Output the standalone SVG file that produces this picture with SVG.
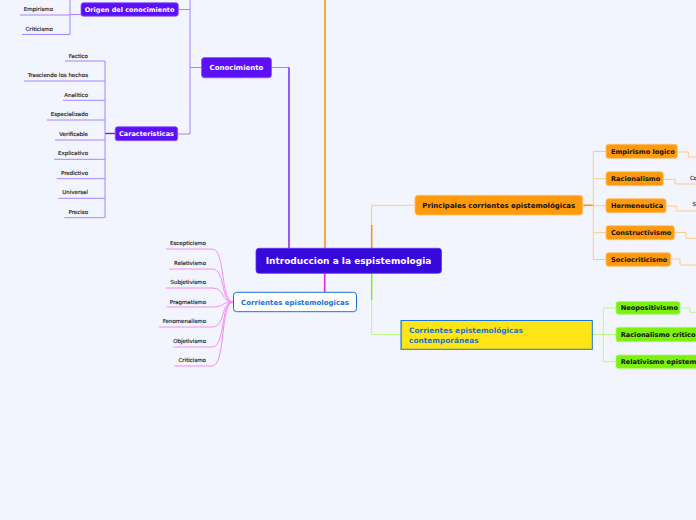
<svg xmlns="http://www.w3.org/2000/svg" width="696" height="520" viewBox="0 0 696 520">
<style>
.bg{fill:#f3f5fe}
.t{font-family:"DejaVu Sans",Verdana,sans-serif}
.leaf{font-family:"DejaVu Sans",Verdana,sans-serif;font-size:5.5px;fill:#2a2a2a;stroke:#2a2a2a;stroke-width:0.18;text-anchor:end}
.pn rect{fill:#5b10f6;stroke:#8a5cff;stroke-width:0.8}
.pn text{fill:#fff;font-weight:bold;font-family:"DejaVu Sans",Verdana,sans-serif}
.on rect{fill:#ff9a0c;stroke:#ffc069;stroke-width:0.8}
.on text{fill:#111;font-weight:bold;font-family:"DejaVu Sans",Verdana,sans-serif;font-size:6.6px}
.gn rect{fill:#7cf00e;stroke:#b0f772;stroke-width:0.8}
.gn text{fill:#111;font-weight:bold;font-family:"DejaVu Sans",Verdana,sans-serif;font-size:6.6px}
.c{fill:none;stroke-linejoin:round}
.pl{stroke:#a684ff;stroke-width:1}
.pd{stroke:#6b1cf7;stroke-width:1.4}
.ol{stroke:#fcc98a;stroke-width:1}
.od{stroke:#f7961f;stroke-width:1.6}
.gl{stroke:#bdf58a;stroke-width:1}
.gd{stroke:#86ee22;stroke-width:1.5}
.ml{stroke:#f58cf5;stroke-width:1}
.md{stroke:#ee22ee;stroke-width:1.6}
</style>
<rect class="bg" x="0" y="0" width="696" height="520"/>

<g id="connectors">
  <path class="c od" d="M325,0 V248"/>
  <path class="c pl" d="M271,67.5 H289"/>
  <path class="c pd" d="M289,67.5 V248"/>
  <path class="c pl" d="M190,0 V134 M201,67.5 H190 M178,9.5 H190 M178,134 H190"/>
  <path class="c pl" d="M70,0 V34.5 M81,14.5 H70 M20,15 H70 M22,34.5 H70"/>
  <path class="c pd" d="M115,133.5 H105"/>
  <path class="c pl" d="M105,61 V217.7 M65,61 H105 M24,81 H105 M63,100.3 H105 M47,120 H105 M55,140 H105 M54,159.3 H105 M56.7,178.7 H105 M58.3,198.3 H105 M64.3,217.7 H105"/>
  <path class="c od" d="M371.7,248 V225"/>
  <path class="c ol" d="M371.7,225 V205.3 H415"/>
  <path class="c od" d="M583,205.3 H593.3"/>
  <path class="c ol" d="M593.3,151.5 V259.5 M593.3,151.5 H606 M593.3,178.7 H606 M593.3,205.7 H606 M593.3,232.7 H606 M593.3,259.5 H606"/>
  <path class="c ol" d="M677,152 H688.3 V157 H696 M663.3,179.3 H675 V184 H696 M666,206 H676.7 V211 H696 M674.3,232.5 H686 V238.3 H696 M671,259 H680 V265 H696"/>
  <path class="c gd" d="M371.7,273 V300"/>
  <path class="c gl" d="M371.7,300 V334.5 H401"/>
  <path class="c gl" d="M592.3,334.5 H603.3 M603.3,308 V361.7 M603.3,308 H616 M603.3,334.5 H616 M603.3,361.7 H616"/>
  <path class="c gl" d="M680,308 H690 V312.3 H696"/>
  <path class="c md" d="M324.7,273 V292"/>
  <path class="c ml" d="M166,249 H212 C226,249 220,302 233,302"/>
  <path class="c ml" d="M169,269 H212 C226,269 220,302 233,302"/>
  <path class="c ml" d="M166,288 H212 C226,288 220,302 233,302"/>
  <path class="c ml" d="M166.7,307 H212 C226,307 220,302 233,302"/>
  <path class="c ml" d="M159,327 H212 C226,327 220,302 233,302"/>
  <path class="c ml" d="M172.7,347 H212 C226,347 220,302 233,302"/>
  <path class="c ml" d="M174,366 H212 C226,366 220,302 233,302"/>
</g>

<g id="central">
  <rect x="256" y="248.3" width="185.5" height="25" rx="3" fill="#3608dc" stroke="#5a36e6" stroke-width="0.8"/>
  <text class="t" x="348.5" y="264" font-size="9" font-weight="bold" fill="#fff" text-anchor="middle">Introduccion a la espistemologia</text>
</g>

<g id="conocimiento" class="pn">
  <rect x="201.5" y="57.5" width="70" height="20.3" rx="3"/>
  <text x="236.5" y="70.2" font-size="7" text-anchor="middle">Conocimiento</text>
</g>
<g id="origen" class="pn">
  <rect x="81" y="2.7" width="97.3" height="13.5" rx="2.5"/>
  <text x="129.6" y="11.8" font-size="6.5" text-anchor="middle">Origen del conocimiento</text>
</g>
<g id="caracteristicas" class="pn">
  <rect x="115.2" y="126.7" width="62.5" height="14" rx="2.5"/>
  <text x="146.5" y="136" font-size="6.5" text-anchor="middle">Caracteristicas</text>
</g>

<g id="origen-leaves">
  <text class="leaf" x="53" y="10.8">Empirismo</text>
  <text class="leaf" x="53" y="31">Criticismo</text>
</g>
<g id="caract-leaves">
  <text class="leaf" x="88" y="57.7">Factico</text>
  <text class="leaf" x="88" y="77">Trasciende los hechos</text>
  <text class="leaf" x="88" y="97">Analitico</text>
  <text class="leaf" x="88" y="116">Especializado</text>
  <text class="leaf" x="88" y="136">Verificable</text>
  <text class="leaf" x="88" y="155.3">Explicativo</text>
  <text class="leaf" x="88" y="174.7">Predictivo</text>
  <text class="leaf" x="88" y="193.7">Universal</text>
  <text class="leaf" x="88" y="213.7">Preciso</text>
</g>

<g id="corrientes">
  <rect x="233.5" y="292.3" width="123" height="19.4" rx="3" fill="#ffffff" stroke="#1b6fd6" stroke-width="1"/>
  <text class="t" x="295" y="304.5" font-size="7" font-weight="bold" fill="#1570d8" text-anchor="middle">Corrientes epistemologicas</text>
</g>
<g id="corrientes-leaves">
  <text class="leaf" x="206" y="244.7">Escepticismo</text>
  <text class="leaf" x="206" y="264.7">Relativismo</text>
  <text class="leaf" x="206" y="283.7">Subjetivismo</text>
  <text class="leaf" x="206" y="303.7">Pragmatismo</text>
  <text class="leaf" x="206" y="322.7">Fenomenalismo</text>
  <text class="leaf" x="206" y="342.7">Objetivismo</text>
  <text class="leaf" x="206" y="362">Criticismo</text>
</g>

<g id="principales" class="on">
  <rect x="415" y="195.3" width="167.7" height="19.7" rx="3"/>
  <text x="498.8" y="207.8" text-anchor="middle" style="font-size:7px">Principales corrientes epistemológicas</text>
</g>
<g id="empirismo-logico" class="on">
  <rect x="606" y="144.3" width="71.3" height="14" rx="2.5"/>
  <text x="611" y="153.8">Empirismo logico</text>
</g>
<g id="racionalismo" class="on">
  <rect x="606" y="171.7" width="57.3" height="14" rx="2.5"/>
  <text x="611" y="181.2">Racionalismo</text>
</g>
<g id="hermeneutica" class="on">
  <rect x="606" y="198.7" width="60" height="14" rx="2.5"/>
  <text x="611" y="208.2">Hermeneutica</text>
</g>
<g id="constructivismo" class="on">
  <rect x="606" y="225.7" width="68.3" height="14" rx="2.5"/>
  <text x="611" y="235.2">Constructivismo</text>
</g>
<g id="sociocriticismo" class="on">
  <rect x="606" y="252.7" width="64.7" height="13.6" rx="2.5"/>
  <text x="611" y="262">Sociocriticismo</text>
</g>
<g id="orange-leaves">
  <text class="t" x="690" y="179.7" font-size="5.5" fill="#2a2a2a" stroke="#2a2a2a" stroke-width="0.18">Co</text>
  <text class="t" x="692.5" y="206.3" font-size="5.5" fill="#2a2a2a" stroke="#2a2a2a" stroke-width="0.18">S</text>
</g>

<g id="contemporaneas">
  <rect x="401" y="320.5" width="191.3" height="28.8" fill="#ffe516" stroke="#1b76d2" stroke-width="1"/>
  <line x1="401.5" y1="321" x2="401.5" y2="349" stroke="#5a9aa0" stroke-width="1.2"/>
  <text class="t" font-size="7.4" font-weight="bold" fill="#1773d4"><tspan x="409" y="333.3">Corrientes epistemológicas</tspan><tspan x="409" y="342.7">contemporáneas</tspan></text>
</g>
<g id="neopositivismo" class="gn">
  <rect x="616" y="301.5" width="64" height="12.8" rx="2.5"/>
  <text x="620.7" y="310.4">Neopositivismo</text>
</g>
<g id="racionalismo-critico" class="gn">
  <rect x="616" y="327.3" width="84" height="14.4" rx="2.5"/>
  <text x="620.7" y="336.9">Racionalismo critico</text>
</g>
<g id="relativismo-epistemologico" class="gn">
  <rect x="616" y="355" width="100" height="13.4" rx="2.5"/>
  <text x="620.7" y="364.1">Relativismo epistemológico</text>
</g>
</svg>
